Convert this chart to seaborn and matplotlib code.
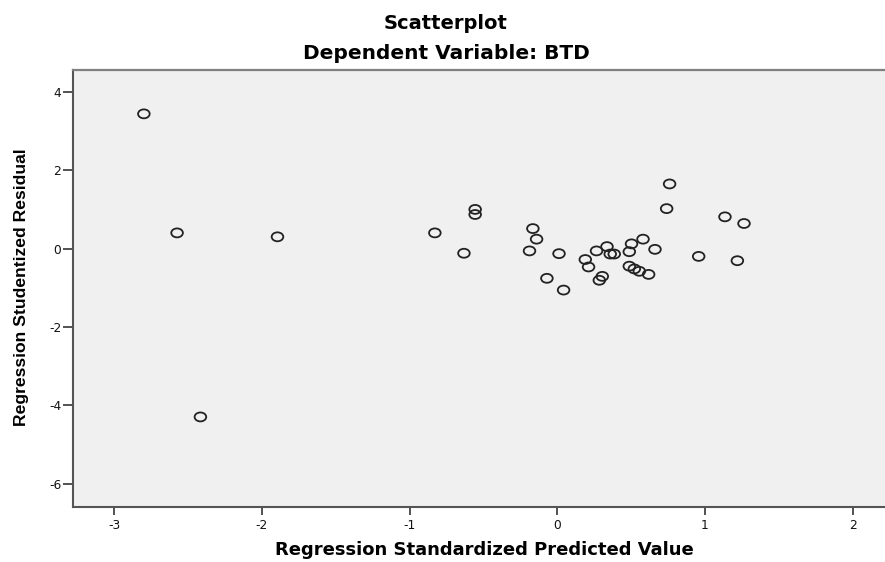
import matplotlib
matplotlib.use("Agg")
import matplotlib.pyplot as plt
from matplotlib.path import Path
from matplotlib.transforms import Affine2D
import seaborn as sns
import pandas as pd

pred = [-2.80, -2.575, -1.895, -2.417, -0.829, -0.632, -0.556, -0.556, -0.165, -0.140,
        -0.188, 0.012, -0.070, 0.043, 0.190, 0.212, 0.266, 0.337, 0.359, 0.386,
        0.305, 0.285, 0.503, 0.488, 0.581, 0.488, 0.522, 0.556, 0.619, 0.662,
        0.741, 0.761, 0.958, 1.136, 1.265, 1.220]
resid = [3.44, 0.40, 0.30, -4.30, 0.40, -0.12, 1.00, 0.87, 0.51, 0.24,
         -0.06, -0.13, -0.76, -1.06, -0.28, -0.47, -0.06, 0.05, -0.14, -0.14,
         -0.71, -0.81, 0.12, -0.08, 0.24, -0.45, -0.52, -0.58, -0.66, -0.02,
         1.02, 1.65, -0.20, 0.81, 0.64, -0.31]
x_ticks = [-3, -2, -1, 0, 1, 2]
y_ticks = [4, 2, 0, -2, -4, -6]

df = pd.DataFrame({"pred": pred, "resid": resid})

sns.set_style("white")
plt.rcParams['font.family'] = ['DejaVu Sans']
plt.rcParams['text.color'] = 'black'
plt.rcParams['axes.labelcolor'] = 'black'

fig = plt.figure(figsize=(8.85, 5.62), dpi=100)
ax = fig.add_axes([73/885, 1 - 507/562, 1 - 73/885, (507 - 70)/562])
ax.set_facecolor("#f0f0f0")

ellipse = Path.unit_circle().transformed(Affine2D().scale(1.3, 1.0))
sns.scatterplot(data=df, x="pred", y="resid", ax=ax, marker=ellipse, s=70,
                facecolor="none", edgecolor="#222222", linewidth=1.3)

ax.set_xlim(-3.28, 2.22)
ax.set_ylim(-6.6, 4.56)
ax.set_xticks(x_ticks)
ax.set_xticklabels([str(t) for t in x_ticks])
ax.set_yticks(y_ticks)
ax.set_yticklabels([str(t) for t in y_ticks])
ax.tick_params(axis="both", direction="out", width=1.3, color="#444444",
               labelsize=8.8, labelcolor="#111111")
ax.tick_params(axis="x", length=5.5, pad=3, bottom=True)
ax.tick_params(axis="y", length=7, pad=1.5, left=True)

ax.spines["top"].set_color("#808080")
ax.spines["top"].set_linewidth(1.6)
for side in ["left", "bottom"]:
    ax.spines[side].set_color("#555555")
    ax.spines[side].set_linewidth(1.5)
ax.spines["right"].set_visible(False)

ax.set_xlabel("Regression Standardized Predicted Value", fontsize=13, fontweight="bold")
ax.xaxis.set_label_coords(0.507, -0.110)
ax.xaxis.label.set_va("baseline")
ax.set_ylabel("Regression Studentized Residual", fontsize=12.6, fontweight="bold",
              family=["Liberation Sans", "DejaVu Sans"])
ax.yaxis.set_label_coords(-0.064, 0.503)
ax.yaxis.label.set_va("center")

fig.text(446/885, 1 - 29/562, "Scatterplot", ha="center", va="baseline",
         fontsize=14, fontweight="bold")
fig.text(446/885, 1 - 59/562, "Dependent Variable: BTD", ha="center",
         va="baseline", fontsize=14.5, fontweight="bold")

fig.savefig("out.png", dpi=100, facecolor="white")
